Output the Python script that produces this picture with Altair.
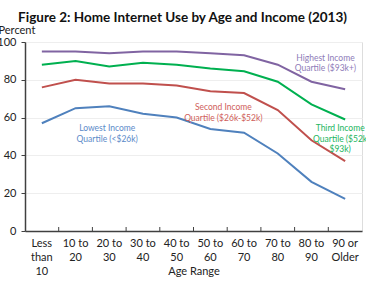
import altair as alt
import pandas as pd

ages = ["Less than 10", "10 to 20", "20 to 30", "30 to 40", "40 to 50",
        "50 to 60", "60 to 70", "70 to 80", "80 to 90", "90 or Older"]
highest = [95, 95, 94, 95, 95, 94, 93, 88, 79, 75]
third = [88, 90, 87, 89, 88, 86, 84.5, 79, 67, 59]
second = [76, 80, 78, 78, 77, 74, 73, 64, 48, 37]
lowest = [57, 65, 66, 62, 60, 54, 52, 41, 26, 17]

series_names = ["Highest", "Third", "Second", "Lowest"]
series_values = [highest, third, second, lowest]
line_colors = ["#8064A2", "#00B050", "#C0504D", "#4F81BD"]
text_colors = ["#8E7BB8", "#22B560", "#CF5E5A", "#5B8AC9"]

label_texts = ["Highest Income\nQuartile ($93k+)",
               "Third Income\nQuartile ($52k\n$93k)",
               "Second Income\nQuartile ($26k-$52k)",
               "Lowest Income\nQuartile (<$26k)"]
label_anchor_age = ["80 to 90", "90 or Older", "50 to 60", "20 to 30"]
label_offsets = [(14, -24), (-5, 9), (13, 16), (-2, 22)]

FONT = "Lato"
W, H = 337, 189

rows = []
for name, vals in zip(series_names, series_values):
    for a, v in zip(ages, vals):
        rows.append({"age": a, "series": name, "value": v})
df = pd.DataFrame(rows)

xscale = alt.Scale(type="band", domain=ages, paddingInner=0, paddingOuter=0)
yscale = alt.Scale(domain=[0, 100])
cscale = alt.Scale(domain=series_names, range=line_colors)

x_axis = alt.Axis(
    title="Age Range", ticks=False, labelAngle=0, labelPadding=6,
    labelLineHeight=14, labelFontSize=11, labelFont=FONT, labelColor="#222222",
    labelExpr="datum.label == 'Less than 10' ? ['Less','than','10'] : [slice(datum.label,0,5), slice(datum.label,6)]",
    titleFont=FONT, titleFontSize=11, titleFontWeight="normal", titleColor="#222222",
    titleY=40, titleBaseline="middle",
    domainColor="#404040", domainWidth=1.5, grid=False,
)
y_axis = alt.Axis(
    values=[0, 20, 40, 60, 80, 100], title="Percent", titleAngle=0,
    titleAlign="left", titleX=-27, titleY=-12, titleBaseline="middle",
    titleFont=FONT, titleFontSize=11, titleFontWeight="normal", titleColor="#222222",
    labelFont=FONT, labelFontSize=11, labelColor="#222222", labelPadding=5,
    labelOverlap=False,
    tickSize=4, tickColor="#404040", domainColor="#404040", domainWidth=1.5,
    grid=True, gridColor="#EEEEEE", gridWidth=1,
)


def xe(bp=0.5):
    return alt.X("age:N", sort=ages, scale=xscale, bandPosition=bp, axis=x_axis)


def ye():
    return alt.Y("value:Q", scale=yscale, axis=y_axis)


lines = alt.Chart(df).mark_line(strokeWidth=2).encode(
    x=xe(), y=ye(),
    color=alt.Color("series:N", scale=cscale, legend=None),
    detail="series:N",
)

ticks = alt.Chart(pd.DataFrame({"age": ages[1:]})).mark_rule(
    color="#404040", strokeWidth=1
).encode(
    x=xe(0),
    y=alt.value(H - 4), y2=alt.value(H),
)

layers = [lines, ticks]
for name, txt, anchor, (dx, dy), tc, vals in zip(
        series_names, label_texts, label_anchor_age, label_offsets, text_colors, series_values):
    v = vals[ages.index(anchor)]
    tdf = pd.DataFrame({"age": [anchor], "value": [v], "label": [txt]})
    layers.append(
        alt.Chart(tdf).mark_text(
            font=FONT, fontSize=8.5, color=tc, align="center", lineBreak="\n",
            lineHeight=10.5, dx=dx, dy=dy,
        ).encode(
            x=xe(), y=ye(),
            text="label:N",
        )
    )

chart = alt.layer(*layers).properties(
    width=W, height=H,
    title=alt.TitleParams(
        "Figure 2: Home Internet Use by Age and Income (2013)",
        font=FONT, fontSize=13.5, fontWeight="bold", color="#111111",
        anchor="middle", dx=-11, dy=3, offset=3,
    ),
    autosize=alt.AutoSizeParams(type="none"),
    padding={"left": 25, "top": 42, "right": 4, "bottom": 50},
).configure_view(stroke="#6E6E6E", strokeWidth=1).configure(background="white")

chart.save("out.html", embed_options={"renderer": "svg", "actions": False})
